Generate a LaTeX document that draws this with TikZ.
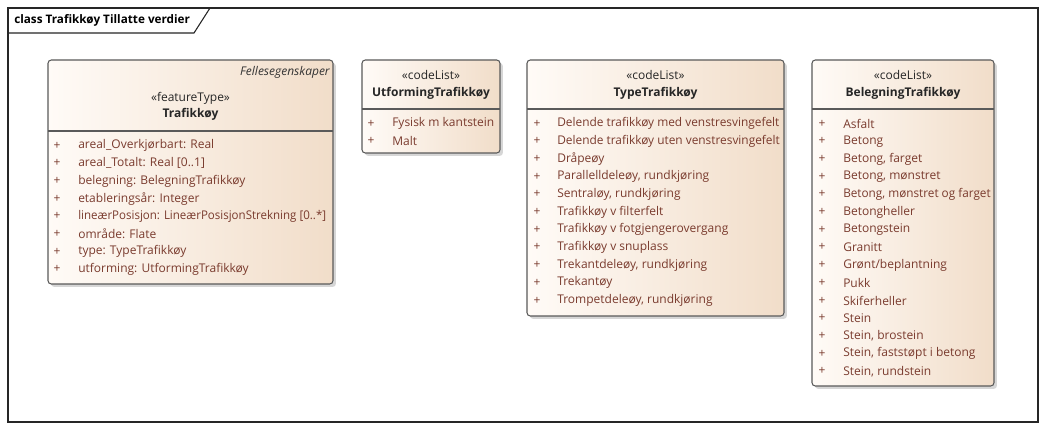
\documentclass[tikz,border=0pt]{standalone}
\usepackage{fontspec}
\setmainfont{Open Sans}
\usetikzlibrary{shadows}
\definecolor{boxleft}{HTML}{FFFBF7}
\definecolor{boxright}{HTML}{F1DDC9}
\definecolor{attr}{HTML}{7A3B2E}
\definecolor{edge}{HTML}{5A5A5A}
\tikzset{
  umlbox/.style={draw=edge, line width=0.8pt, rounded corners=2.5pt, left color=boxleft, right color=boxright,
    drop shadow={shadow xshift=2.2pt, shadow yshift=-2.2pt, fill=black!40, opacity=0.4}},
  divider/.style={draw=edge, line width=0.8pt},
  stereo/.style={font=\fontsize{9}{10}\selectfont, text=black!85, inner sep=0pt},
  cname/.style={font=\fontsize{9}{10}\selectfont\bfseries, text=black!85, inner sep=0pt},
  plus/.style={font=\fontsize{9}{10}\selectfont, text=attr, inner sep=0pt},
  item/.style={font=\fontsize{9}{10}\selectfont, text=attr, inner sep=0pt, anchor=west},
  frametitle/.style={font=\fontsize{8.8}{10}\selectfont\bfseries, text=black, inner sep=0pt, anchor=west},
}
\begin{document}
\begin{tikzpicture}[x=0.75pt, y=-0.75pt]
\useasboundingbox (0,0) rectangle (1047,431);
\fill[white] (0,0) rectangle (1047,431);
% frame
\draw[black!85, line width=0.8pt] (8,8) rectangle (1038,422);
\draw[black!85, line width=0.8pt] (8,33) -- (194,33) -- (210,8);
\node[frametitle] (title) at (14,20) {class Trafikkøy Tillatte verdier};

% Box 1: Trafikkøy
\path[umlbox] (48,60) rectangle (333,284);
\draw[divider] (48,131) -- (333,131);
\node[inner sep=0pt, anchor=east, font=\fontsize{9}{10}\selectfont\itshape, text=black!80] (fe) at (330,72) {Fellesegenskaper};
\node[stereo] (st1) at (190.5,98) {«featureType»};
\node[cname] (n1) at (190.5,114) {Trafikkøy};
\foreach \t [count=\i from 0] in {areal\_Overkjørbart: Real, areal\_Totalt: Real [0..1], belegning: BelegningTrafikkøy, etableringsår: Integer, {\scalebox{0.96}[1]{lineærPosisjon: LineærPosisjonStrekning [0..*]}}, område: Flate, type: TypeTrafikkøy, utforming: UtformingTrafikkøy}{
  \node[plus] (p1\i) at (57,145.5+17.7*\i) {+};
  \node[item] (a1\i) at (78,145.5+17.7*\i) {\t};
}

% Box 2: UtformingTrafikkøy
\path[umlbox] (362,60) rectangle (500,153);
\draw[divider] (362,109) -- (500,109);
\node[stereo] (st2) at (431,75) {«codeList»};
\node[cname] (n2) at (431,93) {UtformingTrafikkøy};
\foreach \t [count=\i from 0] in {Fysisk m kantstein, Malt}{
  \node[plus] (p2\i) at (371,123.5+17.3*\i) {+};
  \node[item] (a2\i) at (392,123.5+17.3*\i) {\t};
}

% Box 3: TypeTrafikkøy
\path[umlbox] (527,60) rectangle (784,316);
\draw[divider] (527,109) -- (784,109);
\node[stereo] (st3) at (655.5,75) {«codeList»};
\node[cname] (n3) at (655.5,93) {TypeTrafikkøy};
\foreach \t [count=\i from 0] in {{\scalebox{0.99}[1]{Delende trafikkøy med venstresvingefelt}}, {\scalebox{0.99}[1]{Delende trafikkøy uten venstresvingefelt}}, Dråpeøy, {Parallelldeleøy, rundkjøring}, {Sentraløy, rundkjøring}, Trafikkøy v filterfelt, Trafikkøy v fotgjengerovergang, Trafikkøy v snuplass, {Trekantdeleøy, rundkjøring}, Trekantøy, {Trompetdeleøy, rundkjøring}}{
  \node[plus] (p3\i) at (537,123.5+17.7*\i) {+};
  \node[item] (a3\i) at (557,123.5+17.7*\i) {\t};
}

% Box 4: BelegningTrafikkøy
\path[umlbox] (812,60) rectangle (994,386);
\draw[divider] (812,109) -- (994,109);
\node[stereo] (st4) at (903,75) {«codeList»};
\node[cname] (n4) at (903,93) {BelegningTrafikkøy};
\foreach \t [count=\i from 0] in {Asfalt, Betong, {Betong, farget}, {Betong, mønstret}, {\scalebox{0.98}[1]{Betong, mønstret og farget}}, Betongheller, Betongstein, Granitt, Grønt/beplantning, Pukk, Skiferheller, Stein, {Stein, brostein}, {Stein, faststøpt i betong}, {Stein, rundstein}}{
  \node[plus] (p4\i) at (822,123.5+17.7*\i) {+};
  \node[item] (a4\i) at (843,123.5+17.7*\i) {\t};
}
\end{tikzpicture}
\end{document}
